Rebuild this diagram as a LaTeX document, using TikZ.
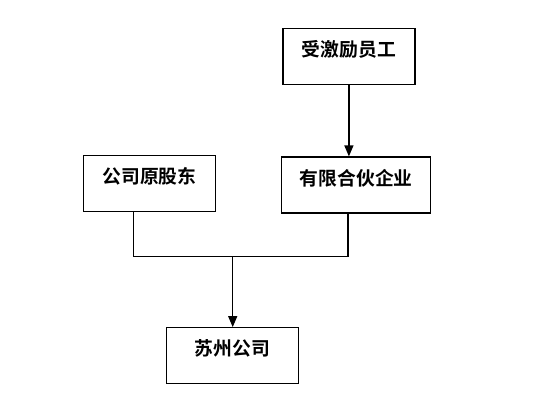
\documentclass[tikz,border=0pt]{standalone}
\usepackage{fontspec}
\newfontfamily\cjk{Noto Sans CJK SC}[BoldFont={Noto Sans CJK SC Bold}]
\usetikzlibrary{arrows.meta}

\tikzset{
  entity/.style={draw, line width=1.2pt, minimum height=56pt, inner sep=0pt,
    text height=13pt, text depth=13pt, font=\cjk\bfseries\fontsize{18.8}{20}\selectfont},
  link/.style={line width=1.3pt},
}

\begin{document}
\begin{tikzpicture}[x=1pt, y=1pt, >={Triangle[length=11pt, width=9pt]}]
  \useasboundingbox (0,0) rectangle (534,-410);

  % Shareholding entities
  \node[entity, minimum width=132pt] (staff)   at (348.9,-56.2) {受激励员工};
  \node[entity, minimum width=132pt] (holder)  at (149.5,-183.7) {公司原股东};
  \node[entity, minimum width=149pt] (partner) at (356.2,-185) {有限合伙企业};
  \node[entity, minimum width=132pt] (suzhou)  at (232.3,-355.7) {苏州公司};

  % Staff hold the partnership
  \draw[link, ->] (staff.south) -- (staff.south |- partner.north);

  % Both owners join into the company
  \coordinate (joint) at (232.7,-256.3);
  \draw[link] ([xshift=-15.8pt]holder.south) |- (joint) -| ([xshift=-8.2pt]partner.south);
  \draw[link, ->] (joint) -- (joint |- suzhou.north);
\end{tikzpicture}
\end{document}
